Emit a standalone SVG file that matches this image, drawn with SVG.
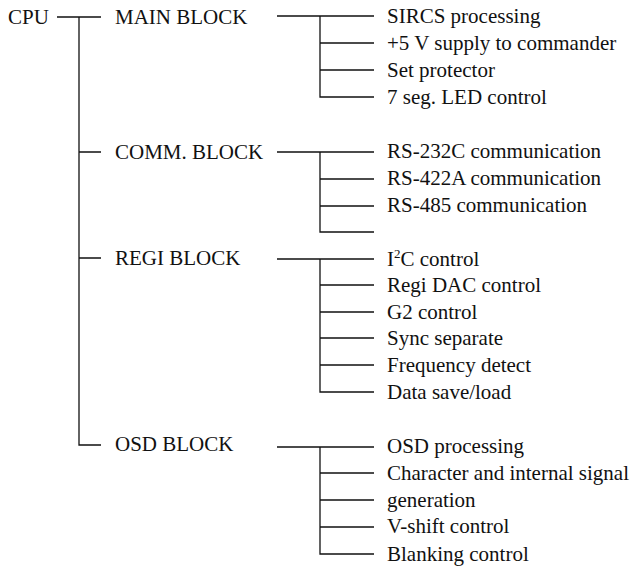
<svg xmlns="http://www.w3.org/2000/svg" width="634" height="566" viewBox="0 0 634 566">
<style>
text{font-family:"Liberation Serif","Times New Roman",serif;font-size:21px;fill:#111}
.c path{fill:none;stroke:#111;stroke-width:1.3}
</style>
<rect width="634" height="566" fill="#fff"/>
<g class="c" id="connectors">
<path d="M57,17H101M79,17V445H101M79,152H101M79,258H101"/>
<path d="M277,16H374M320,16V97H374M320,43H374M320,70H374"/>
<path d="M277,152H374M320,152V232H374M320,179H374M320,206H374"/>
<path d="M277,259H374M320,259V392H374M320,285H374M320,312H374M320,338H374M320,365H374"/>
<path d="M277,447H374M320,447V554H374M320,473H374M320,500H374M320,527H374"/>
</g>
<g id="cpu"><text x="8" y="24">CPU</text></g>
<g id="main-block"><text x="115" y="24">MAIN BLOCK</text></g>
<g id="comm-block"><text x="115" y="159">COMM. BLOCK</text></g>
<g id="regi-block"><text x="115" y="265">REGI BLOCK</text></g>
<g id="osd-block"><text x="115" y="451">OSD BLOCK</text></g>
<g id="main-items">
<text x="387" y="23">SIRCS processing</text>
<text x="387" y="50">+5 V supply to commander</text>
<text x="387" y="77">Set protector</text>
<text x="387" y="104">7 seg. LED control</text>
</g>
<g id="comm-items">
<text x="387" y="158">RS-232C communication</text>
<text x="387" y="185">RS-422A communication</text>
<text x="387" y="212">RS-485 communication</text>
</g>
<g id="regi-items">
<text x="387" y="266">I<tspan font-size="13" dy="-8">2</tspan><tspan dy="8">C control</tspan></text>
<text x="387" y="292">Regi DAC control</text>
<text x="387" y="319">G2 control</text>
<text x="387" y="345">Sync separate</text>
<text x="387" y="372">Frequency detect</text>
<text x="387" y="399">Data save/load</text>
</g>
<g id="osd-items">
<text x="387" y="453">OSD processing</text>
<text x="387" y="480">Character and internal signal</text>
<text x="387" y="507">generation</text>
<text x="387" y="533">V-shift control</text>
<text x="387" y="561">Blanking control</text>
</g>
</svg>
